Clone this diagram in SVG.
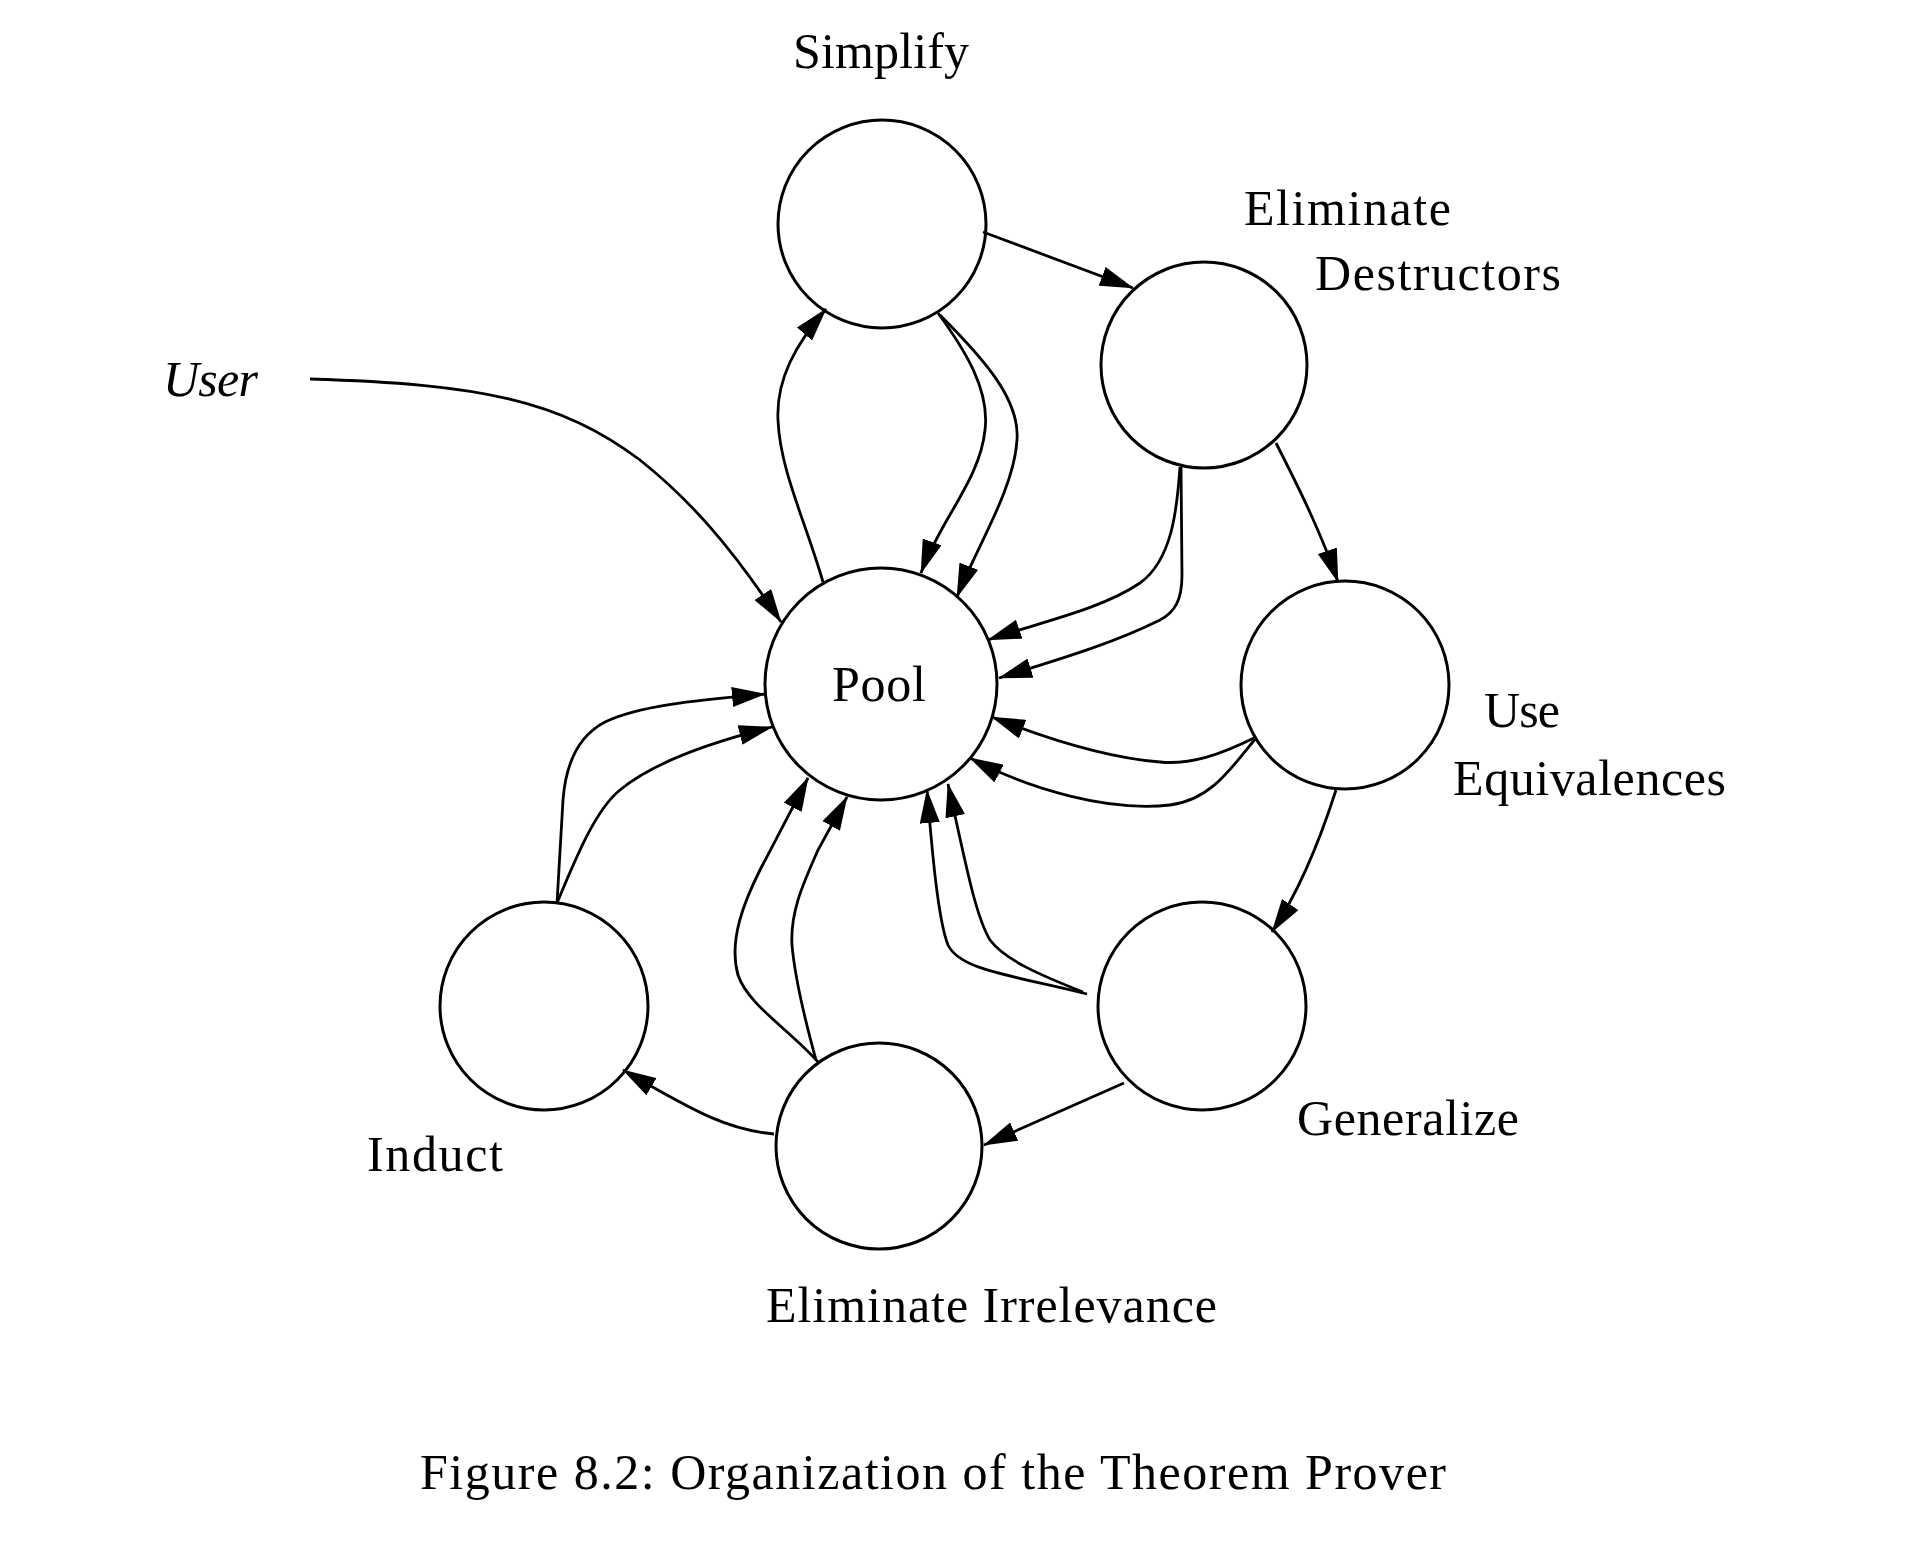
<svg xmlns="http://www.w3.org/2000/svg" width="1918" height="1546" viewBox="0 0 1918 1546">
<defs>
<style>
.node{fill:none;stroke:#000;stroke-width:3}
.edge{fill:none;stroke:#000;stroke-width:2.8;marker-end:url(#ah)}
.lbl{font-family:"Liberation Serif","Times New Roman",serif;font-size:50px;fill:#000}
.it{font-style:italic}
</style>
<marker id="ah" viewBox="0 0 34 20" refX="33" refY="10" markerWidth="34" markerHeight="20" markerUnits="userSpaceOnUse" orient="auto">
<path d="M0,0 L34,10 L0,20 z" fill="#000"/>
</marker>
</defs>
<rect width="1918" height="1546" fill="#fff"/>

<g id="pool"><circle class="node" cx="881" cy="684" r="116"/><text class="lbl" x="832" y="701" textLength="94">Pool</text></g>
<g id="simplify"><circle class="node" cx="882" cy="224" r="104"/><text class="lbl" x="793" y="68" textLength="176">Simplify</text></g>
<g id="eliminate-destructors"><circle class="node" cx="1204" cy="365" r="103"/><text class="lbl" x="1244" y="225" textLength="207">Eliminate</text><text class="lbl" x="1315" y="290" textLength="246">Destructors</text></g>
<g id="use-equivalences"><circle class="node" cx="1345" cy="685" r="104"/><text class="lbl" x="1484" y="727" textLength="76">Use</text><text class="lbl" x="1453" y="795" textLength="273">Equivalences</text></g>
<g id="generalize"><circle class="node" cx="1202" cy="1006" r="104"/><text class="lbl" x="1297" y="1135" textLength="222">Generalize</text></g>
<g id="eliminate-irrelevance"><circle class="node" cx="879" cy="1146" r="103"/><text class="lbl" x="766" y="1322" textLength="451">Eliminate Irrelevance</text></g>
<g id="induct"><circle class="node" cx="544" cy="1006" r="104"/><text class="lbl" x="367" y="1171" textLength="136">Induct</text></g>
<g id="user"><text class="lbl it" x="163" y="396" textLength="95">User</text></g>

<g id="connectors">
<path class="edge" d="M983,232 L1133,288"/>
<path class="edge" d="M823,582 C805,520 780,470 778,420 C776,380 795,345 826,309"/>
<path class="edge" d="M938,313 C965,350 990,390 985,430 C980,480 940,520 921,573"/>
<path class="edge" d="M940,315 C985,360 1020,400 1017,440 C1014,490 975,550 957,597"/>
<path class="edge" d="M1180,467 C1177,510 1172,560 1140,583 C1100,610 1040,622 988,640"/>
<path class="edge" d="M1181,467 L1182,575 C1182,600 1175,612 1160,620 C1110,645 1050,662 999,678"/>
<path class="edge" d="M1276,443 C1300,490 1322,535 1338,582"/>
<path class="edge" d="M1256,737 C1220,755 1190,765 1160,762 C1110,758 1050,740 992,717"/>
<path class="edge" d="M1256,738 C1230,770 1210,800 1170,805 C1110,812 1030,790 970,758"/>
<path class="edge" d="M1336,790 C1320,840 1300,890 1272,932"/>
<path class="edge" d="M1087,994 C1010,975 960,970 948,945 C938,920 932,850 927,790"/>
<path class="edge" d="M1083,992 C1040,975 1005,960 990,940 C975,915 965,860 948,784"/>
<path class="edge" d="M818,1062 C790,1030 748,1005 738,975 C728,940 745,900 760,870 L808,778"/>
<path class="edge" d="M816,1060 C805,1020 795,980 792,945 C790,910 805,880 818,850 L847,797"/>
<path class="edge" d="M1124,1083 L984,1145"/>
<path class="edge" d="M774,1134 C730,1130 700,1115 623,1070"/>
<path class="edge" d="M557,903 L563,800 C566,760 580,735 605,722 C640,705 700,700 765,694"/>
<path class="edge" d="M557,903 C575,860 595,810 620,790 C650,765 700,745 772,727"/>
<path class="edge" d="M310,379 C480,384 560,400 640,460 C690,500 730,545 781,622"/>
</g>

<g id="caption"><text class="lbl" x="420" y="1489" textLength="1026">Figure 8.2: Organization of the Theorem Prover</text></g>
</svg>
